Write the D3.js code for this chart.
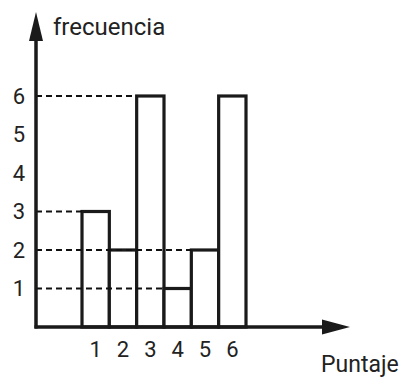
<!DOCTYPE html>
<html>
<head>
<meta charset="utf-8">
<script src="https://cdn.jsdelivr.net/npm/d3@7"></script>
<style>
  body { margin: 0; background: #fff; }
  text { font-family: Roboto, "Open Sans", sans-serif; fill: #222; }
</style>
</head>
<body>
<div id="chart"></div>
<script>
var width = 407;
var height = 379;

// puntaje (categorias) y frecuencia
var puntajes = [1, 2, 3, 4, 5, 6];
var frecuencias = [3, 2, 6, 1, 2, 6];
var yTicks = [1, 2, 3, 4, 5, 6];
// lineas punteadas: valor y hasta que puntaje llegan
var guideValues = [6, 3, 2, 1];
var guideTo = [3, 1, 5, 4];

var originX = 36, originY = 327;

var x = d3.scaleBand()
    .domain(puntajes)
    .range([82, 246])
    .padding(0);

var y = d3.scaleLinear()
    .domain([0, 6])
    .range([originY, 96]);

var svg = d3.select('#chart').append('svg')
    .attr('width', width)
    .attr('height', height);

// bars
svg.selectAll('rect.bar')
    .data(frecuencias)
    .enter().append('rect')
    .attr('class', 'bar')
    .attr('x', function (d, i) { return x(puntajes[i]); })
    .attr('y', function (d) { return y(d); })
    .attr('width', x.bandwidth())
    .attr('height', function (d) { return originY - y(d); })
    .attr('fill', '#fff')
    .attr('stroke', '#1a1a1a')
    .attr('stroke-width', 3.2);

// dashed guide lines (drawn over the bars)
svg.selectAll('line.guide')
    .data(guideValues)
    .enter().append('line')
    .attr('class', 'guide')
    .attr('x1', originX)
    .attr('x2', function (d, i) { return x(guideTo[i]); })
    .attr('y1', function (d) { return y(d); })
    .attr('y2', function (d) { return y(d); })
    .attr('stroke', '#111')
    .attr('stroke-width', 2)
    .attr('stroke-dasharray', '6,4');

// axes
svg.append('line')
    .attr('x1', originX).attr('x2', originX)
    .attr('y1', originY + 1.5).attr('y2', 38)
    .attr('stroke', '#1a1a1a').attr('stroke-width', 3.5);

svg.append('line')
    .attr('x1', originX - 1.5).attr('x2', 326)
    .attr('y1', originY).attr('y2', originY)
    .attr('stroke', '#1a1a1a').attr('stroke-width', 3.5);

// arrows
svg.append('path')
    .attr('d', 'M' + originX + ',12L' + (originX + 7) + ',41L' + (originX - 7) + ',41Z')
    .attr('fill', '#1a1a1a');

svg.append('path')
    .attr('d', 'M350,' + originY + 'L322,' + (originY - 7.5) + 'L322,' + (originY + 7.5) + 'Z')
    .attr('fill', '#1a1a1a');

// y tick labels
svg.selectAll('text.ytick')
    .data(yTicks)
    .enter().append('text')
    .attr('class', 'ytick')
    .attr('x', 19)
    .attr('y', function (d) { return y(d); })
    .attr('dy', '0.36em')
    .attr('text-anchor', 'middle')
    .style('font-size', '22px')
    .text(function (d) { return d; });

// x tick labels
svg.selectAll('text.xtick')
    .data(puntajes)
    .enter().append('text')
    .attr('class', 'xtick')
    .attr('x', function (d) { return x(d) + x.bandwidth() / 2; })
    .attr('y', 357)
    .attr('text-anchor', 'middle')
    .style('font-size', '22px')
    .text(function (d) { return d; });

// axis titles
svg.append('text')
    .attr('x', 53)
    .attr('y', 35)
    .style('font-size', '24px')
    .text('frecuencia');

svg.append('text')
    .attr('x', 321)
    .attr('y', 372)
    .style('font-size', '23px')
    .text('Puntaje');
</script>
</body>
</html>
